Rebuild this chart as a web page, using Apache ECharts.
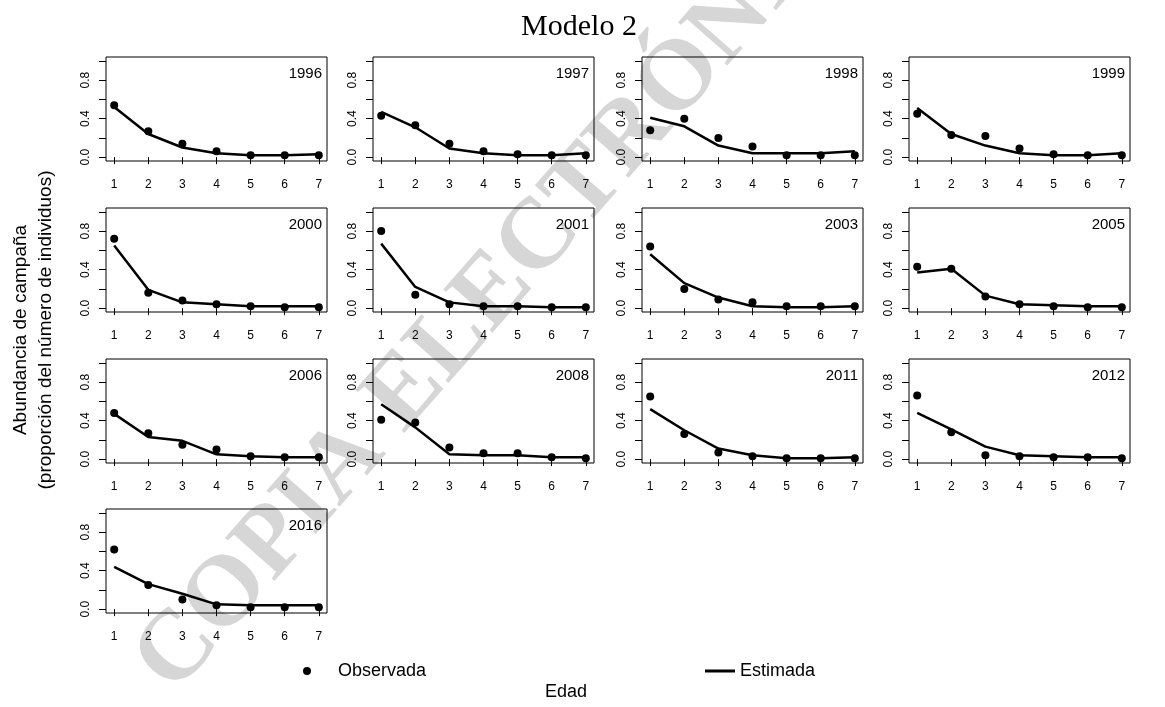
<!DOCTYPE html>
<html>
<head>
<meta charset="utf-8">
<script src="https://cdn.jsdelivr.net/npm/echarts@6/dist/echarts.min.js"></script>
<style>
  html, body { margin: 0; padding: 0; background: #fff; }
  #chart { width: 1165px; height: 707px; }
</style>
</head>
<body>
<div id="chart"></div>
<script>
// Edad (x) and the y tick positions shared by every panel
const ages = [1, 2, 3, 4, 5, 6, 7];
const yTicks = [0, 0.2, 0.4, 0.6, 0.8, 1.0];
const yLabels = [0, 0.4, 0.8];
const years = ['1996', '1997', '1998', '1999', '2000', '2001', '2003', '2005', '2006', '2008', '2011', '2012', '2016'];

// Observed and estimated proportions by age, one pair per survey year
const obs1996 = [0.54, 0.27, 0.14, 0.06, 0.02, 0.02, 0.02];
const est1996 = [0.52, 0.24, 0.10, 0.04, 0.02, 0.02, 0.03];
const obs1997 = [0.43, 0.33, 0.14, 0.06, 0.03, 0.02, 0.02];
const est1997 = [0.47, 0.31, 0.09, 0.04, 0.02, 0.02, 0.04];
const obs1998 = [0.28, 0.40, 0.20, 0.11, 0.02, 0.02, 0.02];
const est1998 = [0.41, 0.32, 0.12, 0.04, 0.04, 0.04, 0.06];
const obs1999 = [0.45, 0.23, 0.22, 0.09, 0.03, 0.02, 0.02];
const est1999 = [0.51, 0.24, 0.12, 0.04, 0.02, 0.02, 0.04];
const obs2000 = [0.72, 0.16, 0.08, 0.04, 0.02, 0.01, 0.01];
const est2000 = [0.65, 0.19, 0.06, 0.04, 0.02, 0.02, 0.02];
const obs2001 = [0.80, 0.14, 0.04, 0.02, 0.02, 0.01, 0.01];
const est2001 = [0.67, 0.22, 0.06, 0.02, 0.02, 0.01, 0.01];
const obs2003 = [0.64, 0.20, 0.09, 0.06, 0.02, 0.02, 0.02];
const est2003 = [0.56, 0.26, 0.11, 0.02, 0.01, 0.01, 0.02];
const obs2005 = [0.43, 0.41, 0.12, 0.04, 0.02, 0.01, 0.01];
const est2005 = [0.37, 0.41, 0.13, 0.04, 0.03, 0.02, 0.02];
const obs2006 = [0.48, 0.27, 0.15, 0.10, 0.03, 0.02, 0.02];
const est2006 = [0.47, 0.23, 0.19, 0.05, 0.03, 0.02, 0.02];
const obs2008 = [0.41, 0.38, 0.12, 0.06, 0.06, 0.02, 0.01];
const est2008 = [0.57, 0.33, 0.05, 0.04, 0.04, 0.02, 0.02];
const obs2011 = [0.65, 0.26, 0.07, 0.03, 0.01, 0.01, 0.01];
const est2011 = [0.52, 0.30, 0.11, 0.04, 0.01, 0.01, 0.02];
const obs2012 = [0.66, 0.28, 0.04, 0.03, 0.02, 0.02, 0.01];
const est2012 = [0.48, 0.31, 0.13, 0.04, 0.03, 0.02, 0.02];
const obs2016 = [0.62, 0.25, 0.10, 0.04, 0.02, 0.02, 0.02];
const est2016 = [0.44, 0.26, 0.16, 0.05, 0.04, 0.04, 0.04];

const observed = [obs1996, obs1997, obs1998, obs1999, obs2000, obs2001, obs2003,
                  obs2005, obs2006, obs2008, obs2011, obs2012, obs2016];
const estimated = [est1996, est1997, est1998, est1999, est2000, est2001, est2003,
                   est2005, est2006, est2008, est2011, est2012, est2016];

// Panel layout (4 columns, row-major)
const colLeft = [106, 373, 642, 909];
const rowTop = [57, 208, 359, 509];
const panelW = 221;
const panelH = 104;
const SANS = '"Liberation Sans", Arial, sans-serif';
const SERIF = '"Liberation Serif", "Times New Roman", serif';

const grids = [], xAxes = [], yAxes = [], series = [], graphics = [];

// Watermark behind the panels
graphics.push({
  type: 'text', x: 515, y: 268, rotation: 0.85, z: -10, silent: true,
  style: {
    text: 'COPIA ELECTRÓNICA', fill: '#d6d6d6',
    font: 'bold 100px ' + SERIF, align: 'center', verticalAlign: 'middle'
  }
});

years.forEach((yr, i) => {
  const left = colLeft[i % 4];
  const top = rowTop[Math.floor(i / 4)];
  grids.push({
    left: left, top: top, width: panelW, height: panelH,
    show: true, borderColor: '#000', borderWidth: 1, backgroundColor: 'transparent',
    outerBoundsMode: 'none'
  });
  xAxes.push({
    gridIndex: i, type: 'value', min: 0.76, max: 7.24,
    axisLine: { show: false },
    axisTick: { show: true, length: 7, customValues: ages, lineStyle: { color: '#000', width: 1 } },
    axisLabel: { customValues: ages, margin: 18, color: '#000', fontSize: 12, fontFamily: SANS },
    splitLine: { show: false }
  });
  yAxes.push({
    gridIndex: i, type: 'value', min: -0.04, max: 1.04,
    axisLine: { show: false },
    axisTick: { show: true, length: 7, customValues: yTicks, lineStyle: { color: '#000', width: 1 } },
    axisLabel: {
      customValues: yLabels, rotate: 90, margin: 14, color: '#000', fontSize: 12, fontFamily: SANS,
      formatter: v => Number(v).toFixed(1)
    },
    splitLine: { show: false }
  });
  series.push({
    name: 'Estimada', type: 'line', xAxisIndex: i, yAxisIndex: i,
    data: ages.map((a, k) => [a, estimated[i][k]]),
    symbol: 'none', lineStyle: { color: '#000', width: 2.5 }, itemStyle: { color: '#000' },
    z: 3, silent: true
  });
  series.push({
    name: 'Observada', type: 'scatter', xAxisIndex: i, yAxisIndex: i,
    data: ages.map((a, k) => [a, observed[i][k]]),
    symbol: 'circle', symbolSize: 8, itemStyle: { color: '#000', opacity: 1 }, z: 4, silent: true
  });
  graphics.push({
    type: 'text', x: left + panelW - 5, y: top + 17,
    style: { text: yr, fill: '#000', font: '15px ' + SANS, align: 'right', verticalAlign: 'middle' }
  });
});

// Titles
graphics.push({
  type: 'text', x: 579, y: 27,
  style: { text: 'Modelo 2', fill: '#000', font: '30px ' + SERIF, align: 'center', verticalAlign: 'middle' }
});
graphics.push({
  type: 'text', x: 566, y: 692,
  style: { text: 'Edad', fill: '#000', font: '18px ' + SANS, align: 'center', verticalAlign: 'middle' }
});
graphics.push({
  type: 'text', x: 33, y: 330, rotation: Math.PI / 2,
  style: {
    text: 'Abundancia de campaña\n(proporción del número de individuos)',
    fill: '#000', font: '19px ' + SANS, align: 'center', verticalAlign: 'middle', lineHeight: 25
  }
});

const option = {
  backgroundColor: '#fff',
  animation: false,
  grid: grids,
  xAxis: xAxes,
  yAxis: yAxes,
  series: series,
  legend: [
    {
      data: [{ name: 'Observada', icon: 'circle', itemStyle: { color: '#000', opacity: 1 } }],
      left: 303, top: 662, padding: 0, itemWidth: 8, itemHeight: 8,
      selectedMode: false,
      textStyle: { color: '#000', fontSize: 18, fontFamily: SANS, padding: [0, 0, 0, 22] }
    },
    {
      data: [{ name: 'Estimada', icon: 'rect', itemStyle: { color: '#000', opacity: 1 } }],
      left: 705, top: 662, padding: 0, itemWidth: 30, itemHeight: 3,
      selectedMode: false,
      textStyle: { color: '#000', fontSize: 18, fontFamily: SANS }
    }
  ],
  graphic: graphics
};

const chart = echarts.init(document.getElementById('chart'), null, { renderer: 'canvas' });
chart.setOption(option);
</script>
</body>
</html>
